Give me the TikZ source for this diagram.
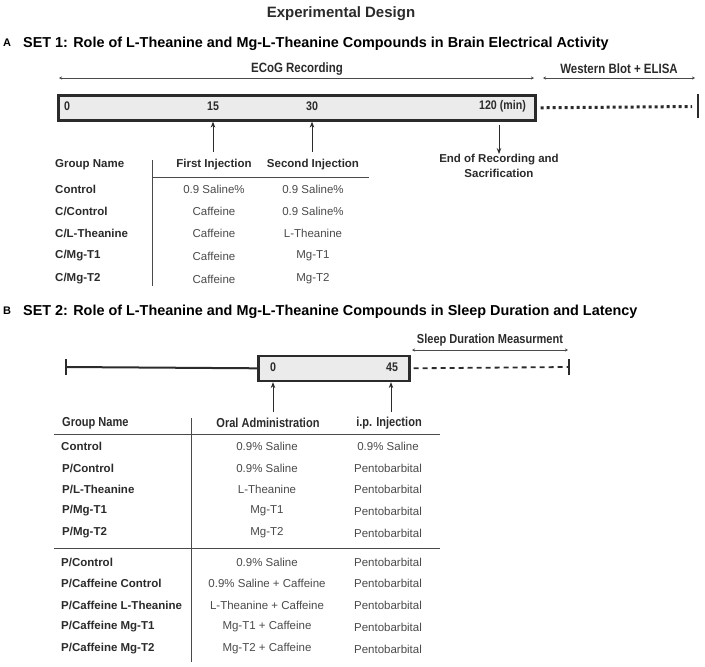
\documentclass[tikz,border=0pt]{standalone}
\usepackage{fontspec}
\setmainfont{Liberation Sans}
\newfontfamily\narrowfont{Liberation Sans}[FakeStretch=0.85]
\usetikzlibrary{arrows.meta,positioning}
\definecolor{ink}{HTML}{2B2B2B}
\definecolor{soft}{HTML}{4A4A4A}
\definecolor{boxgray}{HTML}{EBEBEB}

\tikzset{
  inj/.style={-{Stealth[length=6pt,width=4.5pt]},line width=1pt,ink},
  span/.style={{Stealth[length=3pt,width=3pt]}-{Stealth[length=3pt,width=3pt]},line width=0.7pt,soft},
  timebox/.style={draw=ink,fill=boxgray,line width=2.6pt,inner sep=0,anchor=north west},
  grp/.style={anchor=west,inner sep=0,text=ink,font=\fontsize{11.5}{13}\selectfont\bfseries},
  cell/.style={inner sep=0,text=soft,font=\fontsize{11.5}{13}\selectfont},
  headA/.style={inner sep=0,text=ink,font=\fontsize{11.5}{13}\selectfont\bfseries},
  headB/.style={inner sep=0,text=ink,font=\narrowfont\fontsize{13}{15}\selectfont\bfseries},
  stamp/.style={inner sep=0,text=ink,font=\narrowfont\fontsize{12.5}{14}\selectfont\bfseries},
  rule/.style={line width=1pt,soft}
}

\begin{document}
\begin{tikzpicture}[x=1pt,y=-1pt]
  \useasboundingbox (0,0) rectangle (705,667);

  \node[text=ink,font=\fontsize{15}{17}\selectfont\bfseries] (title) at (341,14) {Experimental Design};

  % ---- set 1 ----
  \node[anchor=west,inner sep=0,font=\fontsize{11}{13}\selectfont\bfseries] (lblA) at (3,43) {A};
  \node[anchor=west,inner sep=0,font=\fontsize{14.4}{16}\selectfont\bfseries] (setA) at (23,44) {SET 1: Role of L-Theanine and Mg-L-Theanine Compounds in Brain Electrical Activity};

  \coordinate (ecogL) at (59,78);
  \coordinate (ecogR) at (534,78);
  \coordinate (wbL) at (543,78);
  \coordinate (wbR) at (695,78);
  \draw[span] (ecogL) -- (ecogR);
  \draw[span] (wbL) -- (wbR);
  \node[stamp,font=\narrowfont\fontsize{13.5}{15}\selectfont\bfseries] (ecog) at (297,69) {ECoG Recording};
  \node[stamp,font=\narrowfont\fontsize{13.5}{15}\selectfont\bfseries] (wb) at (619,69) {Western Blot + ELISA};

  \node[timebox,minimum width=477,minimum height=25] (boxA) at (57,94) {};
  \node[stamp] (t0) at (67,106) {0};
  \node[stamp] (t15) at (213,106) {15};
  \node[stamp] (t30) at (312,106) {30};
  \node[stamp,anchor=east] (t120) at (526,106) {120 (min)};
  \draw[line width=3pt,ink,dash pattern=on 3pt off 3pt] ([xshift=4pt]boxA.east) -- (692,106.5);
  \coordinate (barA) at (698,106);
  \draw[line width=2.8pt,ink] ([yshift=-12pt]barA) -- ([yshift=12pt]barA);

  \coordinate (inj1) at (213,152);
  \coordinate (inj2) at (312,152);
  \draw[inj] (inj1) -- (inj1 |- boxA.south);
  \draw[inj] (inj2) -- (inj2 |- boxA.south);
  \node[headA,align=center] (endrec) at (499,166) {End of Recording and\\[2pt]Sacrification};
  \draw[inj] (boxA.south -| endrec) ++(0,3) -- (endrec.north);

  % table of set 1
  \node[grp] (hA0) at (55,165) {Group Name};
  \node[headA] (hA1) at (214,165) {First Injection};
  \node[headA] (hA2) at (313,165) {Second Injection};
  \draw[rule] (152,177) -- (369,177);
  \draw[rule] (152,160) -- (152,286);

  \node[grp] (gA1) at (55,189) {Control};       \node[cell] (fA1) at (214,189) {0.9 Saline\%}; \node[cell] (sA1) at (313,189) {0.9 Saline\%};
  \node[grp] (gA2) at (55,211) {C/Control};     \node[cell] (fA2) at (214,211) {Caffeine};     \node[cell] (sA2) at (313,211) {0.9 Saline\%};
  \node[grp] (gA3) at (55,233) {C/L-Theanine};  \node[cell] (fA3) at (214,233) {Caffeine};     \node[cell] (sA3) at (313,233) {L-Theanine};
  \node[grp] (gA4) at (55,256) {C/Mg-T1};       \node[cell] (fA4) at (214,256) {Caffeine};     \node[cell] (sA4) at (313,256) {Mg-T1};
  \node[grp] (gA5) at (55,279) {C/Mg-T2};       \node[cell] (fA5) at (214,279) {Caffeine};     \node[cell] (sA5) at (313,279) {Mg-T2};

  % ---- set 2 ----
  \node[anchor=west,inner sep=0,font=\fontsize{11}{13}\selectfont\bfseries] (lblB) at (3,311) {B};
  \node[anchor=west,inner sep=0,font=\fontsize{14.4}{16}\selectfont\bfseries] (setB) at (23,312) {SET 2: Role of L-Theanine and Mg-L-Theanine Compounds in Sleep Duration and Latency};

  \node[timebox,minimum width=151,minimum height=25] (boxB) at (257,354.5) {};
  \node[stamp] (b0) at (273,367) {0};
  \node[stamp] (b45) at (392,367) {45};
  \coordinate (startB) at (66,367);
  \coordinate (endB) at (569,367);
  \draw[line width=2pt,ink] (startB) -- (boxB.west);
  \draw[line width=2pt,ink] ([yshift=-8pt]startB) -- ([yshift=8pt]startB);
  \draw[line width=1.8pt,ink,dash pattern=on 5pt off 4pt] ([xshift=3pt]boxB.east) -- (endB);
  \draw[line width=2pt,ink] ([yshift=-8pt]endB) -- ([yshift=8pt]endB);
  \coordinate (sleepL) at (412,350);
  \coordinate (sleepR) at (568,350);
  \draw[span] (sleepL) -- (sleepR);
  \node[headB] (sleep) at (490,340) {Sleep Duration Measurment};

  \coordinate (oral) at (273,412);
  \coordinate (ip) at (391,412);
  \draw[inj] (oral) -- (oral |- boxB.south);
  \draw[inj] (ip) -- (ip |- boxB.south);

  % table of set 2
  \node[headB,anchor=west] (hB0) at (62,423) {Group Name};
  \node[headB] (hB1) at (268,423) {Oral Administration};
  \node[headB] (hB2) at (389,423) {i.p. Injection};
  \draw[rule] (54,434.5) -- (440,434.5);
  \draw[rule] (54,548) -- (440,548);
  \draw[rule] (191,418) -- (191,662);

  \node[grp] (gB1) at (61,446) {Control};                 \node[cell] (oB1) at (267,446) {0.9\% Saline};             \node[cell] (iB1) at (388,446) {0.9\% Saline};
  \node[grp] (gB2) at (62,468) {P/Control};               \node[cell] (oB2) at (267,468) {0.9\% Saline};             \node[cell] (iB2) at (388,468) {Pentobarbital};
  \node[grp] (gB3) at (62,489) {P/L-Theanine};            \node[cell] (oB3) at (267,489) {L-Theanine};               \node[cell] (iB3) at (388,489) {Pentobarbital};
  \node[grp] (gB4) at (62,511) {P/Mg-T1};                 \node[cell] (oB4) at (267,511) {Mg-T1};                    \node[cell] (iB4) at (388,511) {Pentobarbital};
  \node[grp] (gB5) at (62,533) {P/Mg-T2};                 \node[cell] (oB5) at (267,533) {Mg-T2};                    \node[cell] (iB5) at (388,533) {Pentobarbital};
  \node[grp] (gB6) at (61,562) {P/Control};               \node[cell] (oB6) at (267,562) {0.9\% Saline};             \node[cell] (iB6) at (388,562) {Pentobarbital};
  \node[grp] (gB7) at (61,583) {P/Caffeine Control};      \node[cell] (oB7) at (267,583) {0.9\% Saline + Caffeine};  \node[cell] (iB7) at (388,583) {Pentobarbital};
  \node[grp] (gB8) at (61,605) {P/Caffeine L-Theanine};   \node[cell] (oB8) at (267,605) {L-Theanine + Caffeine};    \node[cell] (iB8) at (388,605) {Pentobarbital};
  \node[grp] (gB9) at (61,627) {P/Caffeine Mg-T1};        \node[cell] (oB9) at (267,627) {Mg-T1 + Caffeine};         \node[cell] (iB9) at (388,627) {Pentobarbital};
  \node[grp] (gB10) at (61,649) {P/Caffeine Mg-T2};       \node[cell] (oB10) at (267,649) {Mg-T2 + Caffeine};        \node[cell] (iB10) at (388,649) {Pentobarbital};
% the box marks the oral dose window, the dashed part the sleep readout
\end{tikzpicture}
\end{document}
